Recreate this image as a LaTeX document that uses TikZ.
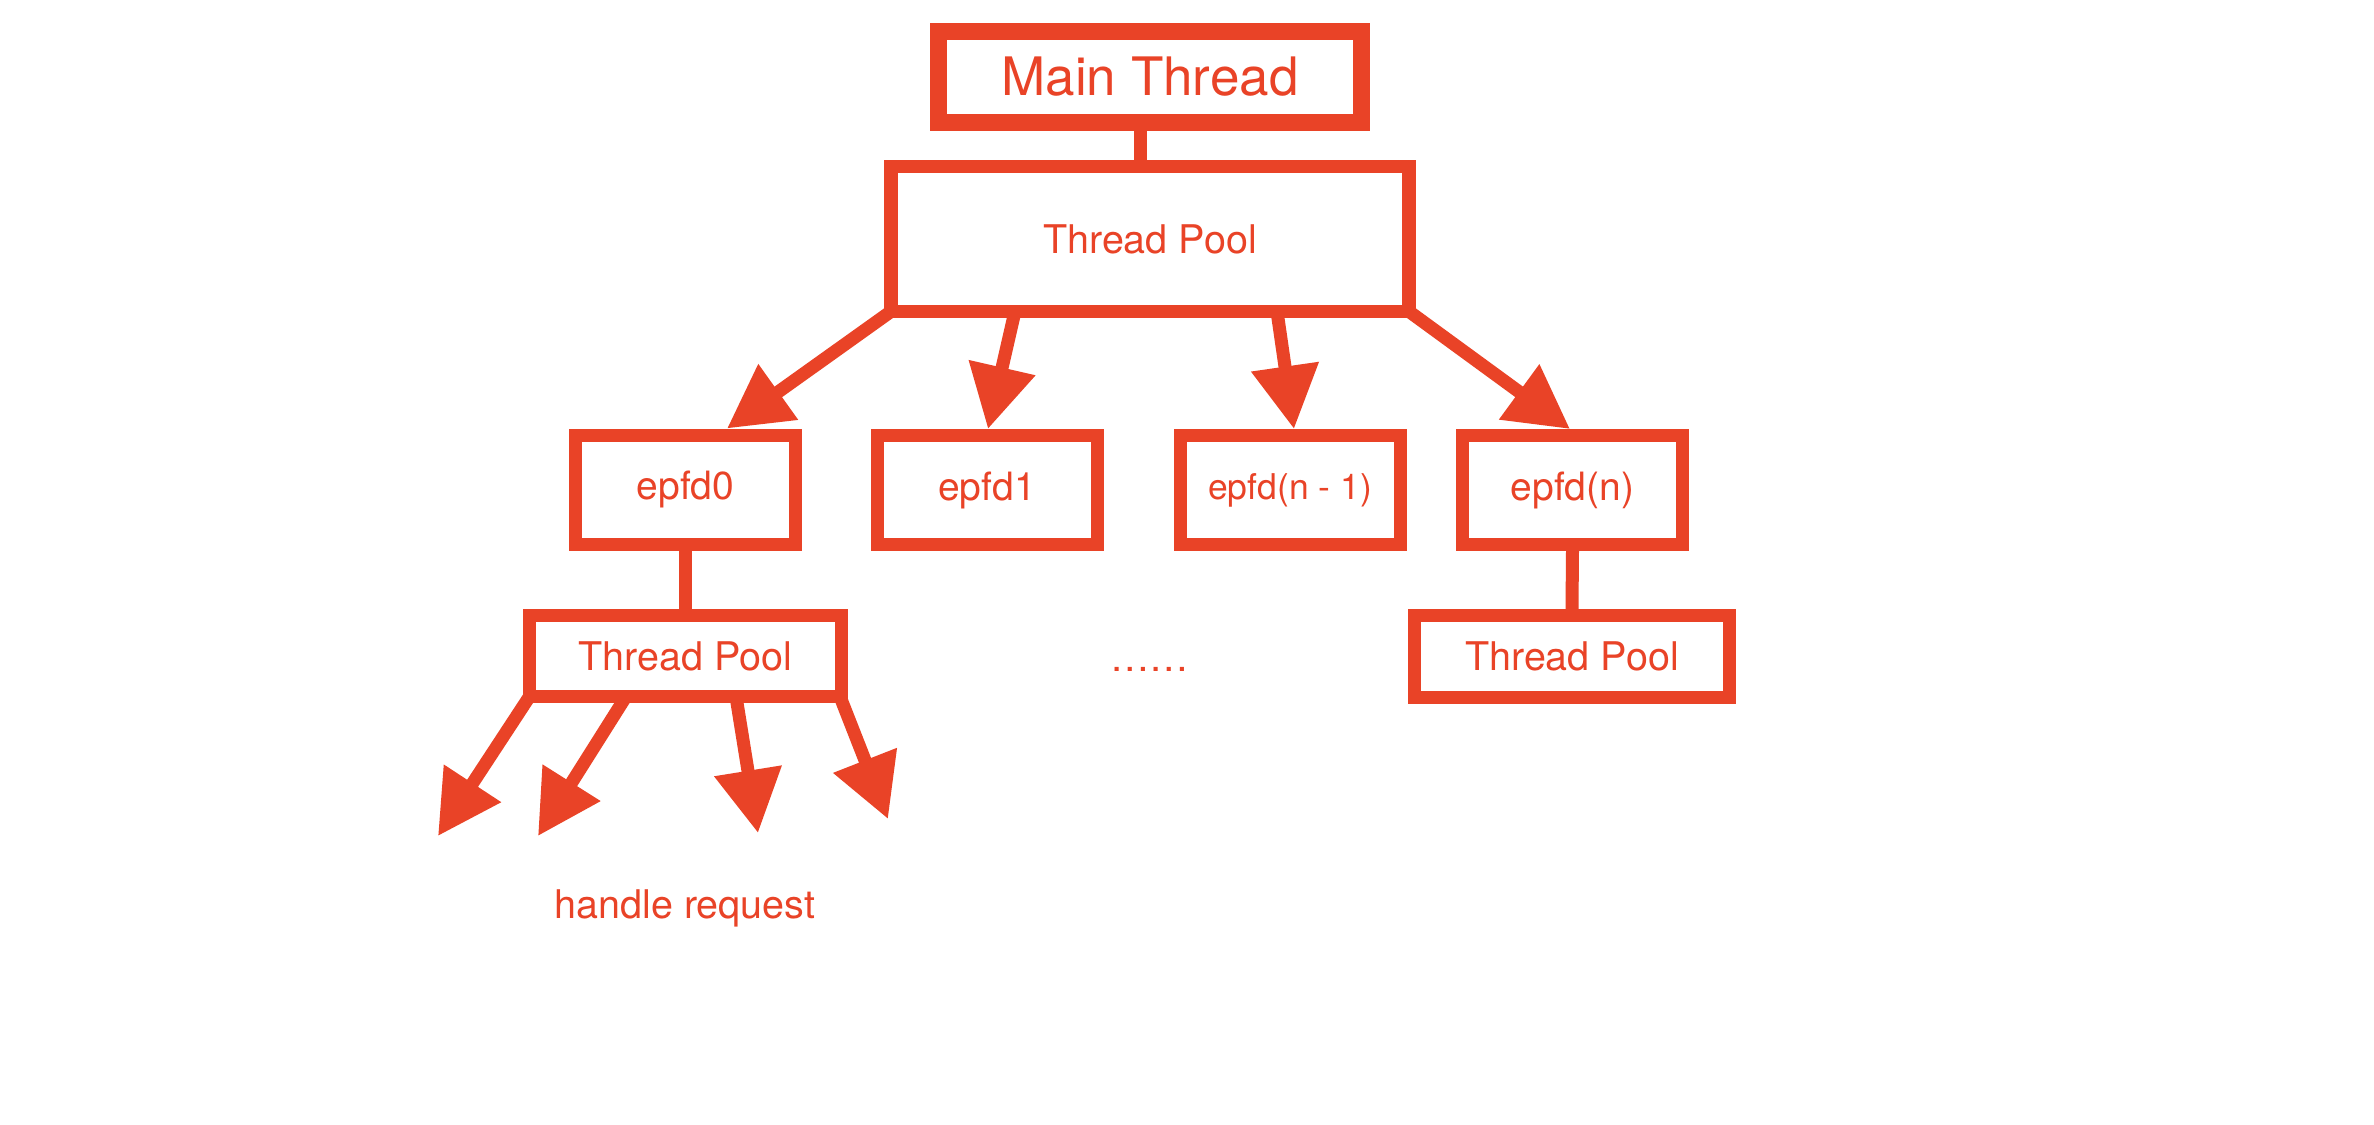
\documentclass[tikz,border=0pt]{standalone}
\usepackage{fontspec}
\setmainfont{TeX Gyre Heros}
\usetikzlibrary{arrows.meta,calc}
\definecolor{tred}{RGB}{233,67,39}
\begin{document}
\begin{tikzpicture}[x=0.5pt,y=-0.5pt,
  box/.style={draw=tred, line width=6.5pt, fill=white, inner sep=0pt, text=tred,
    font=\fontsize{19.5pt}{23pt}\selectfont},
  epfdbox/.style={box, minimum width=110pt, minimum height=54.5pt},
  conn/.style={draw=tred, line width=6.5pt},
  arr/.style={conn, -{Triangle[length=31.5pt,width=32.5pt]}},
  lbl/.style={text=tred, inner sep=0pt, font=\fontsize{19.75pt}{24pt}\selectfont}]
\fill[white] (0,0) rectangle (2374,1125);
\useasboundingbox (0,0) rectangle (2374,1125);

% nodes
\node[box, line width=8.5pt, minimum width=211.5pt, minimum height=45.5pt,
  font=\fontsize{26.5pt}{32pt}\selectfont] (main) at (1150,77) {Main Thread};
\node[box, line width=6.75pt, minimum width=259pt, minimum height=72.5pt,
  font=\fontsize{19.75pt}{24pt}\selectfont] (pool) at (1150,239) {Thread Pool};
\node[epfdbox] (e0) at (685.5,489.5) {epfd0};
\node[epfdbox] (e1) at (987,490) {epfd1};
\node[epfdbox, font=\fontsize{17.75pt}{21pt}\selectfont] (e2) at (1290,490) {epfd(n - 1)};
\node[epfdbox] (e3) at (1572.5,490) {epfd(n)};
\node[box, minimum width=156pt, minimum height=40.5pt,
  font=\fontsize{19.75pt}{24pt}\selectfont] (p1) at (685.5,656) {Thread Pool};
\node[box, minimum width=157.5pt, minimum height=41pt,
  font=\fontsize{19.75pt}{24pt}\selectfont] (p2) at (1572,656.5) {Thread Pool};

\node[lbl, anchor=base] (dots) at (1149.5,671) {……};
\node[lbl, anchor=base] (hr) at (685,918) {handle request};

% connectors
\draw[conn] ($(main.south)+(-9.5,0)$) -- ($(pool.north)+(-9.5,0)$);
\draw[arr] ($(pool.south west)+(7,-7)$) -- ($(e0.north)+(41.5,0)$);
\draw[arr] ($(pool.south)+(-135,-7)$) -- ($(e1.north)+(1,0)$);
\draw[arr] ($(pool.south)+(127,-7)$) -- ($(e2.north)+(4,0)$);
\draw[arr] ($(pool.south east)+(-7,-7)$) -- ($(e3.north)+(-2.5,0)$);
\draw[conn] (e0.south) -- (p1.north);
\draw[conn] (e3.south) -- (p2.north);

\coordinate (h1) at (438,836);
\coordinate (h2) at (538,836);
\coordinate (h3) at (758,833);
\coordinate (h4) at (888,819);
\draw[arr] ($(p1.south west)+(6.5,-6.5)$) -- (h1);
\draw[arr] ($(p1.south)+(-59.5,-6.5)$) -- (h2);
\draw[arr] ($(p1.south)+(50.5,-6.5)$) -- (h3);
\draw[arr] ($(p1.south east)+(-8,-6.5)$) -- (h4);
\end{tikzpicture}
\end{document}
